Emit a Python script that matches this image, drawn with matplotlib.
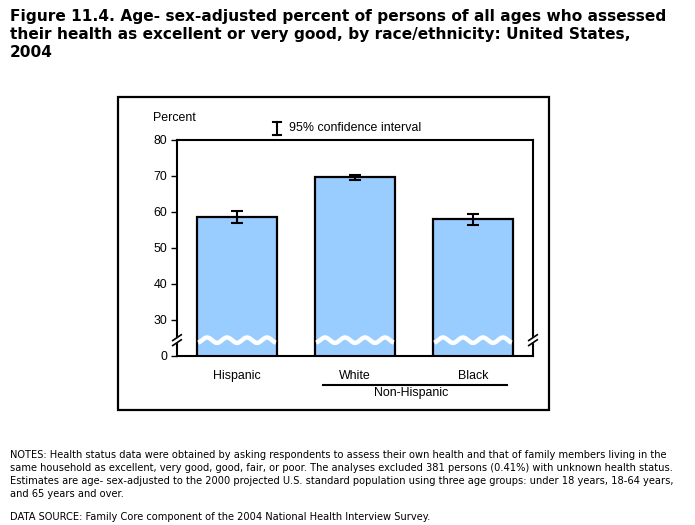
import numpy as np
import matplotlib
matplotlib.use("Agg")
import matplotlib.pyplot as plt
from matplotlib.patches import Rectangle, Polygon
import matplotlib.transforms as mtransforms

categories = ["Hispanic", "White", "Black"]
values = [58.6, 69.7, 58.0]
ci_err = [1.6, 0.7, 1.5]
tick_values = [20, 30, 40, 50, 60, 70, 80]
tick_labels = ["0", "30", "40", "50", "60", "70", "80"]
break_level = 24.4

W, H = 695, 525
fig = plt.figure(figsize=(W / 100, H / 100), dpi=100)
fig.patch.set_facecolor("white")

cfont = "Liberation Sans"
tfont = "DejaVu Sans"
cfs = 8.9

# outer frame
fig.add_artist(Rectangle((118 / W, 1 - 410 / H), (549 - 118) / W, (410 - 97) / H,
                         transform=fig.transFigure, fill=False, lw=1.6, ec="black"))

ax = fig.add_axes([177 / W, 1 - 356 / H, 356 / W, 216 / H])
x = np.arange(len(categories))
bw = 80 / 118
ax.bar(x, values, width=bw, bottom=0, color="#99CCFF", edgecolor="black", linewidth=1.6, zorder=2)
ax.errorbar(x, values, yerr=ci_err, fmt="none", ecolor="black", elinewidth=1.5,
            capsize=4, capthick=1.5, zorder=4)

# wavy breaks across bars
for xi in x:
    xs = np.linspace(xi - bw / 2 + 0.01, xi + bw / 2 - 0.01, 200)
    ys = break_level + 0.75 * np.sin((xs - (xi - bw / 2)) / (bw / 4) * 2 * np.pi - np.pi / 2)
    ax.plot(xs, ys, color="white", lw=3.2, solid_capstyle="butt", zorder=3)

ax.set_xlim(-60 / 118, 2 + 60 / 118)
ax.set_ylim(20, 80)
ax.set_yticks(tick_values)
ax.set_yticklabels(tick_labels, fontfamily=cfont, fontsize=cfs)
ax.tick_params(axis="y", direction="out", length=4, width=1, pad=3)
ax.set_xticks([])
for s in ax.spines.values():
    s.set_linewidth(1.5)

# axis break marks
for xa in (0, 1):
    trans = mtransforms.blended_transform_factory(ax.transAxes, ax.transData)
    ax.add_patch(Polygon([[xa - 0.012, break_level - 1.6], [xa + 0.012, break_level - 0.2],
                          [xa + 0.012, break_level + 1.6], [xa - 0.012, break_level + 0.2]],
                         closed=True, transform=trans, fc="white", ec="none", clip_on=False, zorder=5))
    for dy in (-0.7, 0.7):
        ax.plot([xa - 0.012, xa + 0.012], [break_level - 0.8 + dy, break_level + 0.8 + dy],
                transform=trans, color="black", lw=1.2, clip_on=False, zorder=6)

# category labels
bt = mtransforms.blended_transform_factory(ax.transData, ax.transAxes)
for xi, c in zip(x, categories):
    ax.text(xi, -20 / 216, c, transform=bt, ha="center", va="center", fontfamily=cfont, fontsize=cfs)
ax.plot([1 - 32 / 118, 2 + 34 / 118], [-29 / 216, -29 / 216], transform=bt, color="black",
        lw=1.5, clip_on=False)
ax.text(1.5 - 0.025, -37 / 216, "Non-Hispanic", transform=bt, ha="center", va="center",
        fontfamily=cfont, fontsize=cfs)

# Percent and legend
fig.text(153 / W, 1 - 118 / H, "Percent", ha="left", va="center", fontfamily=cfont, fontsize=cfs)
lx, ly0, ly1 = 277 / W, 1 - 122 / H, 1 - 135 / H
fig.add_artist(plt.Line2D([lx, lx], [ly0, ly1], transform=fig.transFigure, color="black", lw=1.5))
for yy in (ly0, ly1):
    fig.add_artist(plt.Line2D([lx - 4 / W, lx + 4 / W], [yy, yy], transform=fig.transFigure, color="black", lw=1.5))
fig.text(289 / W, 1 - 128 / H, "95% confidence interval", ha="left", va="center",
         fontfamily=cfont, fontsize=cfs)

# title
title = ("Figure 11.4. Age- sex-adjusted percent of persons of all ages who assessed\n"
         "their health as excellent or very good, by race/ethnicity: United States,\n"
         "2004")
fig.text(10 / W, 1 - 9 / H, title, ha="left", va="top", fontfamily=tfont, fontweight="bold",
         fontsize=11.1, linespacing=1.27)

notes = ("NOTES: Health status data were obtained by asking respondents to assess their own health and that of family members living in the\n"
         "same household as excellent, very good, good, fair, or poor. The analyses excluded 381 persons (0.41%) with unknown health status.\n"
         "Estimates are age- sex-adjusted to the 2000 projected U.S. standard population using three age groups: under 18 years, 18-64 years,\n"
         "and 65 years and over.")
fig.text(10 / W, 1 - 450 / H, notes, ha="left", va="top", fontfamily=tfont, fontsize=7.15,
         linespacing=1.38)
fig.text(10 / W, 1 - 517 / H, "DATA SOURCE: Family Core component of the 2004 National Health Interview Survey.",
         ha="left", va="center", fontfamily=tfont, fontsize=7.15)

fig.savefig("out.png", dpi=100)
